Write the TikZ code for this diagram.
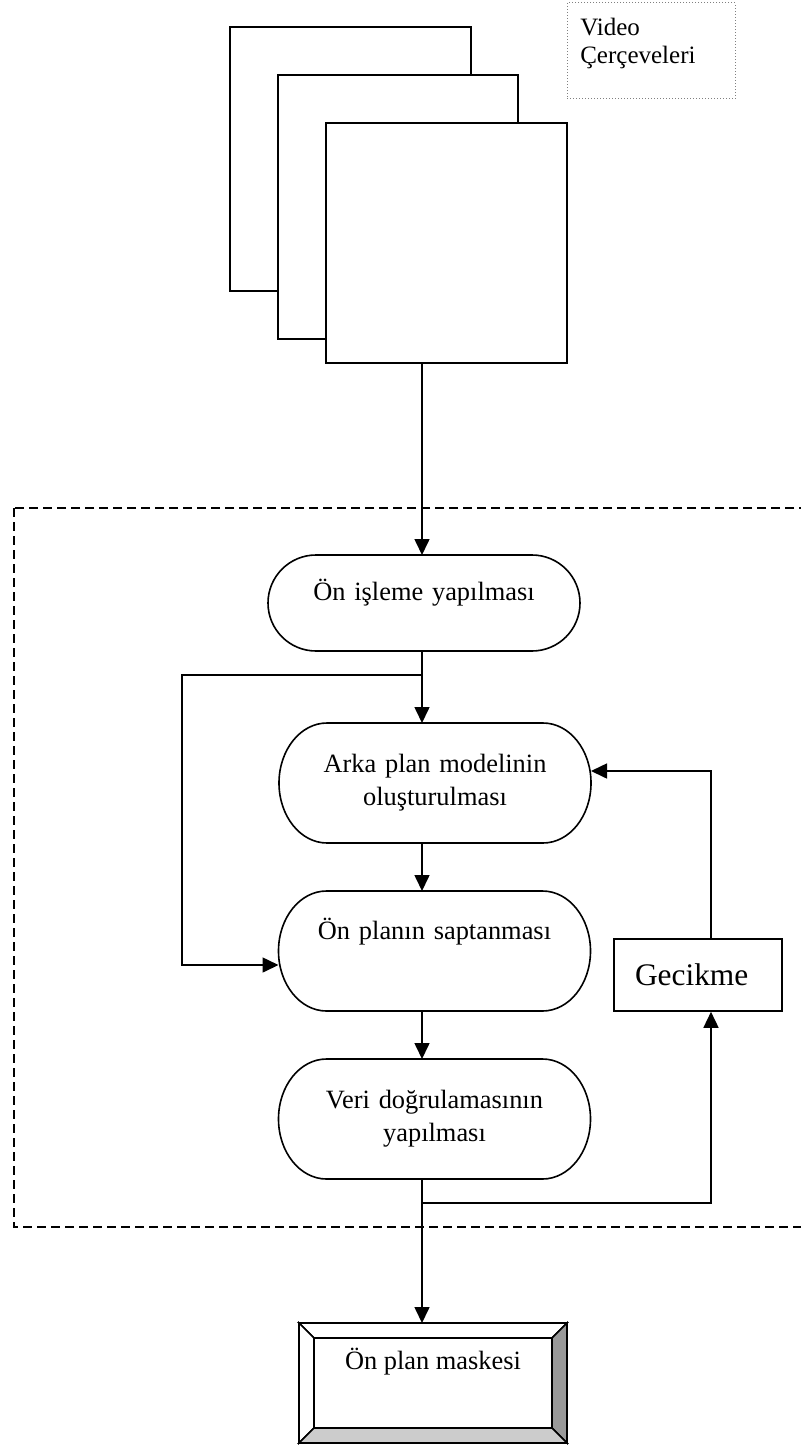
\documentclass[tikz,border=0pt]{standalone}
\usepackage{fontspec}
\setmainfont{Liberation Serif}
\usetikzlibrary{arrows.meta}

% stadium outline round a step node: #1 node name, #2 half height
\newcommand\stadium[2]{%
  \draw ([xshift=-24pt]#1.north east)
    arc[start angle=90,end angle=-90,x radius=24pt,y radius=#2]
    -- ([xshift=24pt]#1.south west)
    arc[start angle=270,end angle=90,x radius=24pt,y radius=#2] -- cycle;}

\begin{document}
\begin{tikzpicture}[x=0.5pt,y=-0.5pt,line width=0.8pt,
    arr/.style={-{Triangle[length=8pt,width=7.5pt]}},
    frame/.style={draw,fill=white,inner sep=0pt},
    step box/.style={inner sep=0pt,outer sep=0pt,text width=156pt,align=center,
      font=\fontsize{13.2pt}{16.5pt}\selectfont}]
  \useasboundingbox (0,0) rectangle (800,1445);

  % Dashed processing region
  \draw[dash pattern=on 4.5pt off 2.5pt] (14,508) rectangle (812,1227);

  % Video frames
  \node[frame,minimum width=120.5pt,minimum height=132pt] (f1) at (350.5,159) {};
  \node[frame,minimum width=120pt,minimum height=132pt] (f2) at (398,207) {};
  \node[frame,minimum width=120.5pt,minimum height=120pt] (f3) at (446.5,243) {};

  % Frame label
  \node[draw=gray,densely dotted,line width=0.5pt,minimum width=84pt,minimum height=48pt] (vid) at (651,51) {};
  \node[anchor=north west,inner sep=0pt,align=left,font=\fontsize{12.5pt}{14pt}\selectfont]
    (vidtxt) at ([xshift=6.5pt,yshift=-7.5pt]vid.north west) {Video\\Çerçeveleri};

  % Steps
  \node[step box,minimum height=48pt,text height=22.5pt,text depth=25.5pt] (b1) at (424,603) {Ön işleme yapılması};
  \node[step box,minimum height=60pt] (b2) at (435,783) {Arka plan modelinin\\oluşturulması};
  \node[step box,minimum height=60pt,text height=24pt,text depth=36pt] (b3) at (434.5,951) {Ön planın saptanması};
  \node[step box,minimum height=60pt] (b4) at (434.5,1119) {Veri doğrulamasının\\yapılması};
  \stadium{b1}{24pt}
  \stadium{b2}{30pt}
  \stadium{b3}{30pt}
  \stadium{b4}{30pt}

  % Delay
  \node[draw,minimum width=84pt,minimum height=36pt,text width=63pt,inner xsep=10.5pt,
    align=left,font=\fontsize{15.7pt}{18pt}\selectfont] (gec) at (698,975) {Gecikme};

  % Output mask (bevelled)
  \node[inner sep=0pt,outer sep=0pt,minimum width=134pt,minimum height=60pt,text height=23pt,text depth=37pt,
    font=\fontsize{13.2pt}{16.5pt}\selectfont] (mask) at (433,1383) {Ön plan maskesi};
  \coordinate (mnw) at ([xshift=7.5pt,yshift=-7.5pt]mask.north west);
  \coordinate (mne) at ([xshift=-7.5pt,yshift=-7.5pt]mask.north east);
  \coordinate (msw) at ([xshift=7.5pt,yshift=7.5pt]mask.south west);
  \coordinate (mse) at ([xshift=-7.5pt,yshift=7.5pt]mask.south east);
  \draw[fill=white] (mask.north west) -- (mask.north east) -- (mne) -- (mnw) -- cycle;
  \draw[fill=white] (mask.north west) -- (mnw) -- (msw) -- (mask.south west) -- cycle;
  \draw[fill=gray!80] (mask.north east) -- (mask.south east) -- (mse) -- (mne) -- cycle;
  \draw[fill=gray!40] (mask.south west) -- (msw) -- (mse) -- (mask.south east) -- cycle;

  % Connectors
  \coordinate (spine) at (422,0);
  \coordinate (split) at (422,675);
  \coordinate (loop) at (182,675);
  \coordinate (join) at (422,1203);
  \draw[arr] (f3.south -| spine) -- (b1.north -| spine);
  \draw[arr] (b1.south -| spine) -- (b2.north -| spine);
  \draw[arr] (split) -- (loop) |- ([yshift=-7pt]b3.west);
  \draw[arr] (b2.south -| spine) -- (b3.north -| spine);
  \draw[arr] (b3.south -| spine) -- (b4.north -| spine);
  \draw[arr] (b4.south -| spine) -- (mask.north -| spine);
  \draw[arr] (join) -| ([xshift=6.5pt]gec.south);
  \draw[arr] ([xshift=6.5pt]gec.north) |- ([yshift=6pt]b2.east);
\end{tikzpicture}
\end{document}
